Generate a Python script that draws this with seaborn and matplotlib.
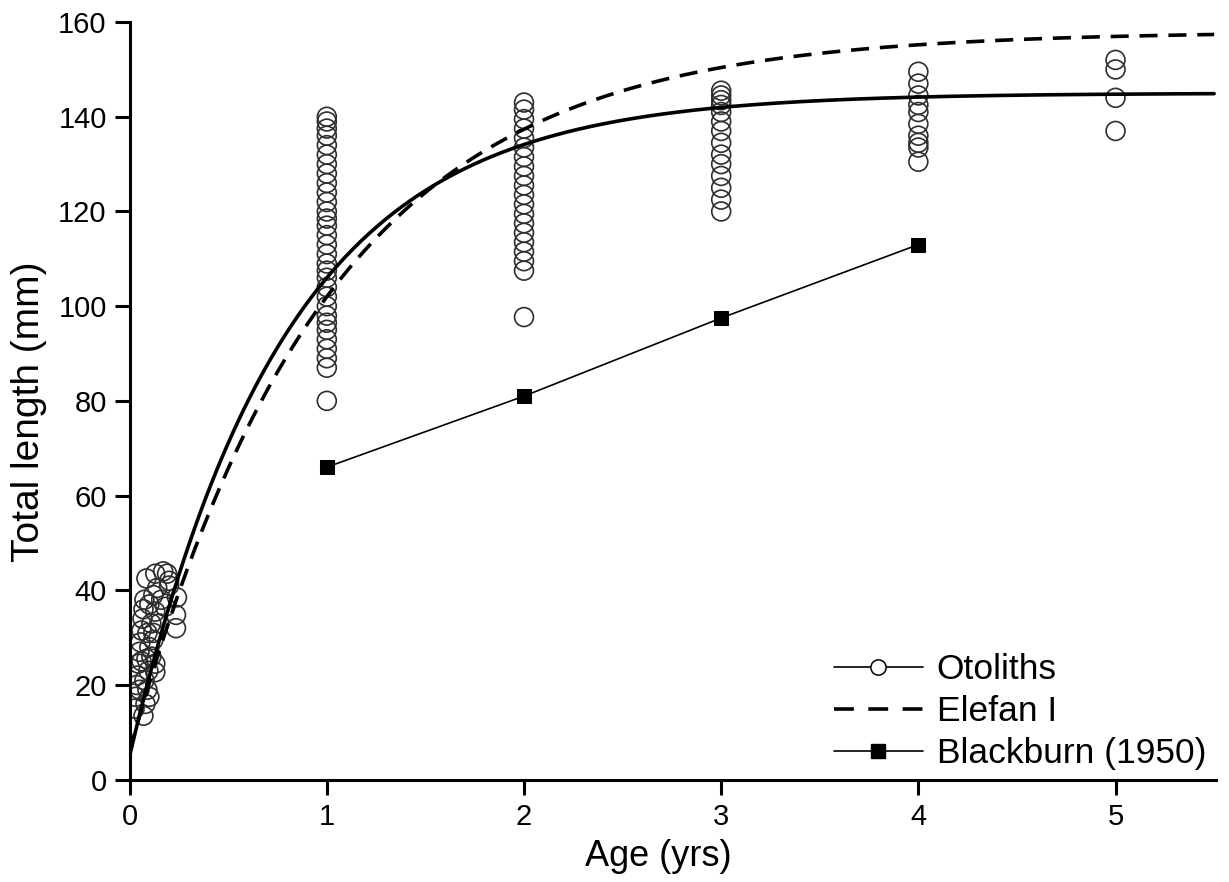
import numpy as np
import pandas as pd
import matplotlib
matplotlib.use("Agg")
import matplotlib.pyplot as plt
from matplotlib.lines import Line2D
import seaborn as sns

# Otolith-derived ages and total lengths (mm)
juv_age = [0.025, 0.03, 0.035, 0.04, 0.045, 0.05, 0.055, 0.06, 0.065, 0.07, 0.075, 0.085,
           0.07, 0.08, 0.10, 0.09, 0.075, 0.095, 0.085, 0.10, 0.12, 0.09, 0.11, 0.13,
           0.10, 0.12, 0.14, 0.13, 0.17, 0.19, 0.20, 0.16, 0.18, 0.15, 0.13, 0.13,
           0.24, 0.235, 0.235, 0.20, 0.05, 0.06, 0.11, 0.12]
juv_len = [15, 17.5, 20, 22, 24.5, 27, 29, 31.5, 34, 36, 38, 42.5,
           13.5, 16, 17.5, 19, 21, 23, 25.5, 28, 29.5, 31, 33, 35.5,
           37, 39, 40.5, 43.5, 44, 43.5, 42, 38, 36.5, 33, 24.5, 22.7,
           38.5, 34.8, 32, 41, 19, 25, 26, 31]
age1_len = [80, 87, 89, 91, 93, 95, 96.5, 98, 100, 102, 104, 106, 107.5, 109, 111, 113,
            115, 117, 118.5, 120, 122, 124, 126, 128, 130, 132, 134, 136, 137.5, 139, 140]
age2_len = [97.7, 107.5, 109.5, 111.5, 113.5, 115.5, 117.5, 119.5, 121.5, 123.5, 125.5,
            127.5, 129.5, 131.5, 133.5, 135.5, 137.5, 139.5, 141.5, 143]
age3_len = [120, 122.5, 125, 127.5, 130, 132, 134.5, 137, 139, 141, 142.5, 143.5, 144.5, 145.5]
age4_len = [130.5, 133.5, 134.5, 136, 138.5, 141, 142.5, 144.5, 147, 149.5]
age5_len = [137, 144, 150, 152]

# Blackburn (1950) length-at-age
blackburn_age = [1, 2, 3, 4]
blackburn_len = [66, 81, 97.5, 113]

# von Bertalanffy growth parameters (L_inf, K, t0)
otolith_vbgf = (145.0, 1.278, -0.0275)
elefan_vbgf = (158.0, 0.9986, -0.0388)

ages_all = (juv_age + [1] * len(age1_len) + [2] * len(age2_len) + [3] * len(age3_len)
            + [4] * len(age4_len) + [5] * len(age5_len))
lens_all = juv_len + age1_len + age2_len + age3_len + age4_len + age5_len
obs = pd.DataFrame({"age": ages_all, "length": lens_all})

t = np.linspace(0, 5.5, 400)


def vbgf(tt, params):
    linf, k, t0 = params
    return linf * (1 - np.exp(-k * (tt - t0)))


curves = pd.DataFrame({"age": t,
                       "oto": vbgf(t, otolith_vbgf),
                       "elefan": vbgf(t, elefan_vbgf)})
bb = pd.DataFrame({"age": blackburn_age, "length": blackburn_len})

sns.set_style("ticks")
plt.rcParams["font.family"] = ["Liberation Sans", "DejaVu Sans"]
plt.rcParams["text.color"] = "black"
plt.rcParams["axes.labelcolor"] = "black"
plt.rcParams["xtick.color"] = "black"
plt.rcParams["ytick.color"] = "black"

fig = plt.figure(figsize=(12.29, 8.82), dpi=100)
ax = fig.add_axes([0.1055, 0.116, 0.884, 0.859])

sns.scatterplot(data=obs, x="age", y="length", ax=ax, s=185, marker="o",
                facecolor="none", edgecolor="#2e2e2e", linewidth=1.2, zorder=2)
sns.lineplot(data=curves, x="age", y="oto", ax=ax, color="black", lw=2.6, zorder=3)
sns.lineplot(data=curves, x="age", y="elefan", ax=ax, color="black", lw=2.6,
             zorder=3).lines[-1].set_dashes((5, 3))
sns.lineplot(data=bb, x="age", y="length", ax=ax, color="black", lw=1.2,
             marker="s", markersize=10, markeredgecolor="black", zorder=4)

ax.set_xlim(0, 5.51)
ax.set_ylim(0, 160)
ax.set_xticks([0, 1, 2, 3, 4, 5])
ax.set_yticks(np.arange(0, 161, 20))
ax.set_xlabel("Age (yrs)", fontsize=26)
ax.set_ylabel("Total length (mm)", fontsize=28)
ax.xaxis.set_label_coords(0.487, -0.078)
ax.yaxis.set_label_coords(-0.076, 0.4855)
ax.tick_params(axis="both", labelsize=21, width=2.2, length=10.5, direction="out",
               color="black", pad=6)
for side in ["top", "right"]:
    ax.spines[side].set_visible(False)
for side in ["left", "bottom"]:
    ax.spines[side].set_linewidth(2.2)
    ax.spines[side].set_color("black")

handles = [
    Line2D([], [], color="black", lw=1.2, marker="o", markersize=11,
           markerfacecolor="white", markeredgecolor="black", markeredgewidth=1.1),
    Line2D([], [], color="black", lw=2.6, dashes=(5.5, 4)),
    Line2D([], [], color="black", lw=1.2, marker="s", markersize=10,
           markerfacecolor="black", markeredgecolor="black"),
]
ax.legend(handles, ["Otoliths", "Elefan I", "Blackburn (1950)"], loc="lower right",
          bbox_to_anchor=(1.004, -0.006), frameon=False, fontsize=25.5, numpoints=1,
          handlelength=2.5, handletextpad=0.4, labelspacing=0.25,
          borderaxespad=0.0)

fig.savefig("out.png", dpi=100)
